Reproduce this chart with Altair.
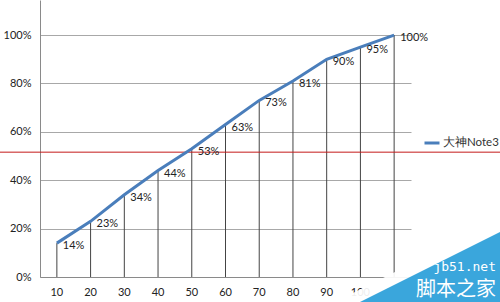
import altair as alt
import pandas as pd

categories = ["10", "20", "30", "40", "50", "60", "70", "80", "90", "100", "110"]
values = [0.14, 0.23, 0.34, 0.44, 0.53, 0.63, 0.73, 0.81, 0.90, 0.95, 1.00]
labels = ["14%", "23%", "34%", "44%", "53%", "63%", "73%", "81%", "90%", "95%", "100%"]
series_name = "大神Note3"
ref_value = 0.516
y_ticks = [0, 0.2, 0.4, 0.6, 0.8, 1.0]

df = pd.DataFrame({"x": categories, "v": values, "lab": labels, "s": series_name})

FONT = "Lato"
xs = alt.X("x:N", sort=categories, scale=alt.Scale(paddingInner=0, paddingOuter=0),
           axis=alt.Axis(title=None, labelAngle=0, ticks=False, domainColor="#8a8a8a",
                         labelPadding=9, labelFontSize=11, labelColor="#222", labelFont=FONT))
ys = alt.Y("v:Q", scale=alt.Scale(domain=[0, 1.145], nice=False),
           axis=alt.Axis(title=None, values=y_ticks, format=".0%", ticks=False,
                         domainColor="#8a8a8a", gridColor="#a8a8a8", labelPadding=9,
                         labelFontSize=11, labelColor="#222", labelFont=FONT))

base = alt.Chart(df)

drops = base.mark_rule(color="#444", strokeWidth=1).encode(
    x=xs, y=ys, y2=alt.datum(0))

line = base.mark_line(strokeWidth=3).encode(
    x=xs, y=ys,
    color=alt.Color("s:N", scale=alt.Scale(domain=[series_name], range=["#4a7ebb"]),
                    legend=alt.Legend(title=None, orient="none", legendX=383, legendY=134,
                                      symbolType="stroke", symbolSize=225,
                                      symbolStrokeWidth=3, labelFontSize=11.5,
                                      labelFont=FONT, labelColor="#333", labelOffset=2,
                                      labelLimit=100, padding=0)))

text = base.mark_text(align="left", dx=6, dy=3, fontSize=11, font=FONT, color="#222").encode(
    x=xs, y=ys, text="lab:N")

red = alt.Chart(pd.DataFrame({"r": [ref_value]})).mark_rule(color="#c41a1a", strokeWidth=1).encode(
    y=alt.Y("r:Q"), x=alt.value(-40), x2=alt.value(460))

wm_white = alt.Chart(pd.DataFrame({"k": [0]})).mark_point(
    shape="M 1 0.5 L -1 0.5 L 1 -0.5 Z", filled=True, color="white", opacity=0.92, size=165 * 165
).encode(x=alt.value(377.5), y=alt.value(260.75))

wm_blue = alt.Chart(pd.DataFrame({"k": [0]})).mark_point(
    shape="M 1 0.5 L -1 0.5 L 1 -0.5 Z", filled=True, color="#3aa6dc", opacity=1, size=140 * 140
).encode(x=alt.value(390), y=alt.value(267))

wm_t1 = alt.Chart(pd.DataFrame({"t": ["jb51.net"]})).mark_text(
    align="right", fontSize=13, font="DejaVu Sans Mono", color="white").encode(
    x=alt.value(456), y=alt.value(267), text="t:N")
wm_t2 = alt.Chart(pd.DataFrame({"t": ["脚本之家"]})).mark_text(
    align="right", fontSize=20, font="Noto Sans CJK SC", color="white").encode(
    x=alt.value(456), y=alt.value(290), text="t:N")

chart = alt.layer(drops, red, line, text, wm_white, wm_blue, wm_t1, wm_t2).properties(
    width=371, height=277,
    autosize=alt.AutoSizeParams(type="none"),
    padding={"left": 40, "top": 0, "right": 89, "bottom": 25},
).configure_view(stroke=None).configure_axis(grid=True).configure_axisX(grid=False)

chart.save("out.html", embed_options={"renderer": "svg", "actions": False})
